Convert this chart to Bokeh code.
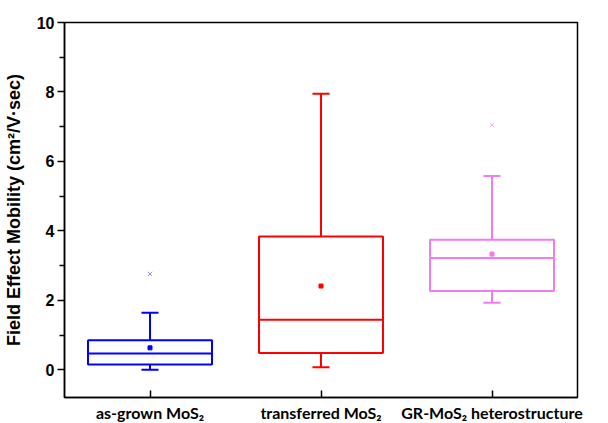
import numpy as np
from bokeh.plotting import figure
from bokeh.models import FixedTicker, Range1d
from bokeh.embed import file_html
from bokeh.resources import INLINE

categories = ["as-grown MoS\u2082", "transferred MoS\u2082", "GR-MoS\u2082 heterostructure"]
whisker_low = [0.0, 0.07, 1.93]
q1 = [0.15, 0.48, 2.27]
median = [0.47, 1.44, 3.22]
q3 = [0.85, 3.84, 3.74]
whisker_high = [1.64, 7.95, 5.58]
means = [0.63, 2.41, 3.33]
outlier_cat = [0, 2]
outlier_val = [2.76, 7.05]
colors = ["#0000ff", "#ff0000", "#f27af2"]
outlier_colors = ["#8c8cff", "#f7a8f7"]

xs = np.arange(len(categories)) + 0.5
box_w = 0.725
cap_w = 0.1

p = figure(frame_width=513, frame_height=375, output_backend="svg", toolbar_location=None,
           x_range=Range1d(0, 3), y_range=Range1d(-0.8, 10),
           min_border_left=60, min_border_top=22, min_border_right=25, min_border_bottom=26)
p.grid.visible = False
p.outline_line_color = "black"
p.outline_line_width = 1.5

# whisker stems
p.segment(x0=xs, y0=q3, x1=xs, y1=whisker_high, line_color=colors, line_width=2)
p.segment(x0=xs, y0=whisker_low, x1=xs, y1=q1, line_color=colors, line_width=2)
# caps
p.segment(x0=xs - cap_w / 2, y0=whisker_high, x1=xs + cap_w / 2, y1=whisker_high, line_color=colors, line_width=2)
p.segment(x0=xs - cap_w / 2, y0=whisker_low, x1=xs + cap_w / 2, y1=whisker_low, line_color=colors, line_width=2)
# boxes
p.quad(left=xs - box_w / 2, right=xs + box_w / 2, bottom=q1, top=q3,
       fill_color=None, line_color=colors, line_width=2)
# medians
p.segment(x0=xs - box_w / 2, y0=median, x1=xs + box_w / 2, y1=median, line_color=colors, line_width=2)
# means
p.scatter(x=xs, y=means, marker="square", size=4, fill_color=colors, line_color=colors)
# outliers
p.scatter(x=xs[outlier_cat], y=outlier_val, marker="x", size=6, line_color=outlier_colors, line_width=1)

# axes
p.xaxis.ticker = FixedTicker(ticks=list(xs))
p.xaxis.major_label_overrides = {float(x): c for x, c in zip(xs, categories)}
p.xaxis.major_tick_in = 7
p.xaxis.major_tick_out = 0
p.xaxis.minor_tick_line_color = None
p.xaxis.major_label_text_font = "Lato"
p.xaxis.major_label_text_font_style = "bold"
p.xaxis.major_label_text_font_size = "16px"
p.xaxis.major_label_standoff = 5

p.yaxis.ticker = FixedTicker(ticks=[0, 2, 4, 6, 8, 10], minor_ticks=[1, 3, 5, 7, 9])
p.yaxis.major_tick_in = 0
p.yaxis.major_tick_out = 7
p.yaxis.minor_tick_in = 0
p.yaxis.minor_tick_out = 5
p.yaxis.major_label_text_font = "Liberation Sans"
p.yaxis.major_label_text_font_style = "bold"
p.yaxis.major_label_text_font_size = "16px"
p.yaxis.major_label_standoff = 3
p.yaxis.axis_label = "Field Effect Mobility (cm\u00b2/V\u00b7sec)"
p.yaxis.axis_label_text_font = "Liberation Sans"
p.yaxis.axis_label_text_font_style = "bold"
p.yaxis.axis_label_text_font_size = "18px"
p.yaxis.axis_label_text_color = "black"
p.yaxis.axis_label_standoff = 10

for ax in (p.xaxis, p.yaxis):
    ax.axis_line_width = 1.5
    ax.major_tick_line_width = 1.5
    ax.minor_tick_line_width = 1.5
    ax.axis_line_color = "black"
    ax.major_label_text_color = "black"

open("out.html", "w").write(file_html(p, INLINE))
